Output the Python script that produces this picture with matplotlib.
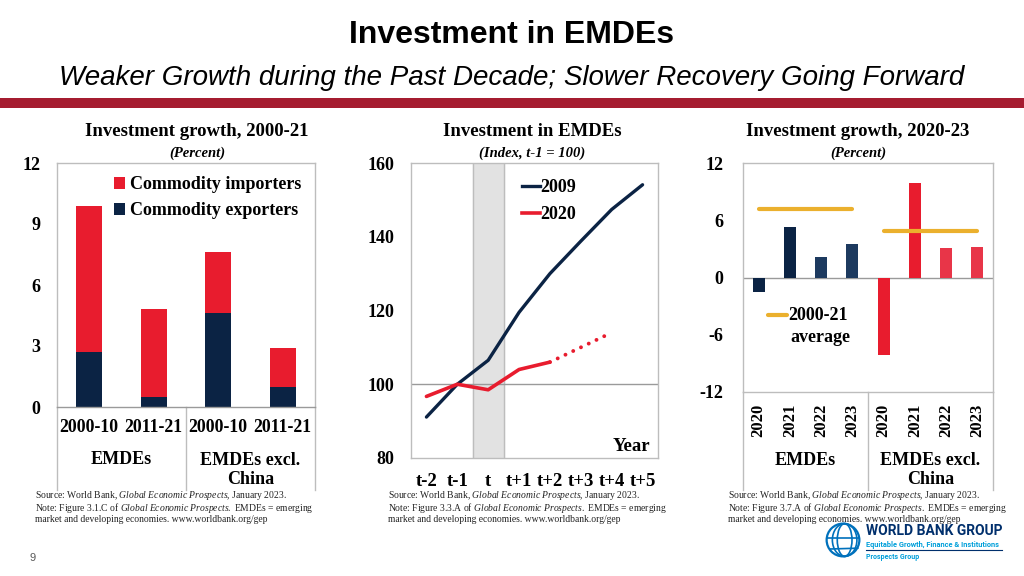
import matplotlib
matplotlib.use("Agg")
import matplotlib.pyplot as plt
from matplotlib.patches import Circle, Ellipse, Rectangle
from matplotlib.lines import Line2D

plt.rcParams["axes.unicode_minus"] = False
plt.rcParams["mathtext.fontset"] = "custom"
plt.rcParams["mathtext.rm"] = "Liberation Serif"
plt.rcParams["mathtext.it"] = "Liberation Serif:italic"

# ---- data ----
periods = ["2000-10", "2011-21", "2000-10", "2011-21"]
groups = ["EMDEs", "EMDEs excl.\nChina"]
exporters = [2.7, 0.5, 4.6, 1.0]
totals = [9.9, 4.8, 7.6, 2.9]
importers = [t - e for t, e in zip(totals, exporters)]

years_idx = ["t-2", "t-1", "t", "t+1", "t+2", "t+3", "t+4", "t+5"]
idx_2009 = [91.1, 100.0, 106.5, 119.5, 130.0, 138.8, 147.4, 154.1]
idx_2020 = [96.7, 100.0, 98.5, 104.0, 106.0]
idx_2020_fc = [106.0, 110.0, 114.0]

years = ["2020", "2021", "2022", "2023", "2020", "2021", "2022", "2023"]
growth = [-1.5, 5.3, 2.1, 3.5, -8.1, 9.9, 3.1, 3.2]
avg_emde = 7.2
avg_excl = 4.9

NAVY = "#0B2344"
RED = "#E81C2E"
ORANGE = "#EBB02D"
FRAME = "#BDBDBD"
SERIF = ["Liberation Serif", "DejaVu Serif"]
SANS = ["Liberation Sans", "DejaVu Sans"]

W, H = 1024, 576
fig = plt.figure(figsize=(W / 100, H / 100), dpi=100)
fig.patch.set_facecolor("white")


def fx(px):
    return px / W


def fy(py):
    return 1 - py / H


# ---- header ----
fig.text(0.5, fy(35), "Investment in EMDEs", ha="center", va="center",
         family=SANS, weight="bold", fontsize=23)
fig.text(0.5, fy(78), "Weaker Growth during the Past Decade; Slower Recovery Going Forward",
         ha="center", va="center", family=SANS, style="italic", fontsize=20)
fig.add_artist(Rectangle((0, fy(108)), 1, 10 / H, transform=fig.transFigure,
                         color="#A51C30", lw=0))


def style_frame(ax):
    for s in ax.spines.values():
        s.set_color(FRAME)
        s.set_linewidth(1.0)
    ax.tick_params(length=0)
    for lab in ax.get_yticklabels():
        lab.set_family(SERIF)
        lab.set_weight("bold")
        lab.set_fontsize(13)


def vline_down(ax, x, y0, y1):
    ax.plot([x, x], [y0, y1], color=FRAME, lw=1.0, clip_on=False,
            transform=ax.get_xaxis_transform())


def source(x, fig_no):
    fig.text(fx(x), fy(496), "Source: World Bank, $\\it{Global\\ Economic\\ Prospects}$, January 2023.",
             family=SERIF, fontsize=6.9, va="center", color="#222222")
    fig.text(fx(x), fy(508), "Note: Figure %s of $\\it{Global\\ Economic\\ Prospects.}$ EMDEs = emerging" % fig_no,
             family=SERIF, fontsize=6.9, va="center", color="#222222")
    fig.text(fx(x), fy(520), "market and developing economies. www.worldbank.org/gep",
             family=SERIF, fontsize=6.9, va="center", color="#222222")


def panel_title(xc, title, sub):
    fig.text(fx(xc), fy(131), title, ha="center", va="center", family=SERIF,
             weight="bold", fontsize=13.5)
    fig.text(fx(xc), fy(153), sub, ha="center", va="center", family=SERIF,
             weight="bold", style="italic", fontsize=10.5)


# ---- panel 1 ----
ax1 = fig.add_axes([fx(57), fy(407), fx(258), 244 / H])
x1 = range(len(periods))
ax1.bar(x1, exporters, width=0.4, color=NAVY, label="Commodity exporters")
ax1.bar(x1, importers, width=0.4, bottom=exporters, color=RED, label="Commodity importers")
ax1.set_xlim(-0.5, 3.5)
ax1.set_ylim(0, 12)
ax1.set_yticks([0, 3, 6, 9, 12])
ax1.set_xticks([])
ax1.tick_params(axis="y", pad=12)
style_frame(ax1)
ax1.spines["bottom"].set_color("#9A9A9A")
vline_down(ax1, -0.5, 0, -0.34)
vline_down(ax1, 3.5, 0, -0.34)
vline_down(ax1, 1.5, 0, -0.34)
tr1 = ax1.get_xaxis_transform()
for i, p in enumerate(periods):
    ax1.text(i, -0.086, p, transform=tr1, ha="center", va="center",
             family=SERIF, weight="bold", fontsize=12.8)
ax1.text(0.5, -0.217, groups[0], transform=tr1, ha="center", va="center",
         family=SERIF, weight="bold", fontsize=13)
ax1.text(2.5, -0.258, groups[1], transform=tr1, ha="center", va="center",
         family=SERIF, weight="bold", fontsize=13, linespacing=1.1)
h, l = ax1.get_legend_handles_labels()
ax1.legend(h[::-1], l[::-1], loc="upper right", frameon=False, handlelength=0.6,
           handleheight=0.6, handletextpad=0.3, labelspacing=0.5,
           bbox_to_anchor=(0.99, 0.99), borderaxespad=0.2,
           prop={"family": SERIF, "weight": "bold", "size": 13})
panel_title(197, "Investment growth, 2000-21", "(Percent)")
source(35, "3.1.C")

# ---- panel 2 ----
ax2 = fig.add_axes([fx(411), fy(458), fx(247), 295 / H])
x2 = list(range(len(years_idx)))
ax2.axvspan(1.5, 2.5, color="#E2E2E2", zorder=0)
ax2.axvline(1.5, color=FRAME, lw=1.0, zorder=0.5)
ax2.axvline(2.5, color=FRAME, lw=1.0, zorder=0.5)
ax2.axhline(100, color="#9A9A9A", lw=1.0, zorder=0.5)
ax2.plot(x2, idx_2009, color=NAVY, lw=2.4, solid_capstyle="round")
ax2.plot(x2[:len(idx_2020)], idx_2020, color=RED, lw=2.6, solid_capstyle="round")
ax2.plot(x2[4:4 + len(idx_2020_fc)], idx_2020_fc, color=RED, lw=2.8,
         linestyle=(0, (0.01, 2.2)), dash_capstyle="round")
ax2.set_xlim(-0.5, 7.5)
ax2.set_ylim(80, 160)
ax2.set_yticks([80, 100, 120, 140, 160])
ax2.set_xticks(x2)
ax2.set_xticklabels(years_idx)
ax2.tick_params(axis="y", pad=12)
ax2.tick_params(axis="x", pad=11)
style_frame(ax2)
for lab in ax2.get_xticklabels():
    lab.set_family(SERIF)
    lab.set_weight("bold")
    lab.set_fontsize(13.5)
ax2.text(0.97, 0.01, "Year", transform=ax2.transAxes, ha="right", va="bottom",
         family=SERIF, weight="bold", fontsize=13.5)
leg_lines = [Line2D([], [], color=NAVY, lw=2.4), Line2D([], [], color=RED, lw=2.6)]
ax2.legend(leg_lines, ["2009", "2020"], loc="upper left", bbox_to_anchor=(0.42, 0.97),
           frameon=False, handlelength=1.0, handletextpad=0.0, labelspacing=0.55,
           borderaxespad=0.0, prop={"family": SERIF, "weight": "bold", "size": 13})
panel_title(532, "Investment in EMDEs", "(Index, t-1 = 100)")
source(388, "3.3.A")

# ---- panel 3 ----
ax3 = fig.add_axes([fx(743), fy(392), fx(250), 229 / H])
x3 = list(range(len(years)))
cols = [NAVY, NAVY, "#1D3A5F", "#1D3A5F", RED, RED, "#E83548", "#E83548"]
ax3.bar(x3, growth, width=0.38, color=cols, zorder=2)
ax3.axhline(0, color="#9A9A9A", lw=1.0, zorder=1)
ax3.plot([0, 3], [avg_emde, avg_emde], color=ORANGE, lw=3, solid_capstyle="round", zorder=3)
ax3.plot([4, 7], [avg_excl, avg_excl], color=ORANGE, lw=3, solid_capstyle="round", zorder=3)
ax3.set_xlim(-0.5, 7.5)
ax3.set_ylim(-12, 12)
ax3.set_yticks([-12, -6, 0, 6, 12])
ax3.set_xticks([])
ax3.tick_params(axis="y", pad=14)
style_frame(ax3)
vline_down(ax3, -0.5, 0, -0.428)
vline_down(ax3, 7.5, 0, -0.428)
vline_down(ax3, 3.5, 0, -0.428)
tr3 = ax3.get_xaxis_transform()
for i, yl in enumerate(years):
    ax3.text(i, -0.122, yl, transform=tr3, ha="center", va="center", rotation=90,
             family=SERIF, weight="bold", fontsize=12)
ax3.text(1.5, -0.297, groups[0], transform=tr3, ha="center", va="center",
         family=SERIF, weight="bold", fontsize=13)
ax3.text(5.5, -0.34, groups[1], transform=tr3, ha="center", va="center",
         family=SERIF, weight="bold", fontsize=13, linespacing=1.1)
# legend for the average line
ax3.plot([0.1, 0.175], [0.336, 0.336], transform=ax3.transAxes, color=ORANGE, lw=3,
         solid_capstyle="round")
ax3.text(0.18, 0.336, "2000-21", transform=ax3.transAxes, ha="left", va="center",
         family=SERIF, weight="bold", fontsize=13)
ax3.text(0.31, 0.24, "average", transform=ax3.transAxes, ha="center", va="center",
         family=SERIF, weight="bold", fontsize=13)
panel_title(858, "Investment growth, 2020-23", "(Percent)")
source(728, "3.7.A")

# ---- footer ----
fig.text(fx(30), fy(558), "9", family=SANS, fontsize=8, color="#595959", va="center")
lg = fig.add_axes([fx(825), fy(558), fx(36), 36 / H])
lg.set_xlim(-1.1, 1.1)
lg.set_ylim(-1.1, 1.1)
lg.set_aspect("equal")
lg.axis("off")
lg.add_patch(Circle((0, 0), 1, fill=False, ec="#0071BC", lw=1.6))
for wdt in [0.9, 1.5]:
    lg.add_patch(Ellipse((0.1, 0), wdt, 2, fill=False, ec="#0071BC", lw=1.2))
lg.plot([-1, 1], [0.1, 0.1], color="#0071BC", lw=1.2)
lg.plot([-0.8, 0.9], [-0.55, -0.5], color="#0071BC", lw=1.2)
fig.text(fx(866), fy(531), "WORLD BANK GROUP", family=["Roboto", "DejaVu Sans"],
         weight="bold", fontsize=10, color="#002F6C", va="center")
fig.text(fx(866), fy(545), "Equitable Growth, Finance & Institutions",
         family=["Roboto", "DejaVu Sans"], weight="bold", fontsize=5.3,
         color="#009FDA", va="center")
fig.add_artist(Line2D([fx(866), fx(1002)], [fy(550), fy(550)], color="#002F6C", lw=0.8))
fig.text(fx(866), fy(557), "Prospects Group", family=["Roboto", "DejaVu Sans"],
         weight="bold", fontsize=5, color="#009FDA", va="center")

fig.savefig("out.png", dpi=100)
